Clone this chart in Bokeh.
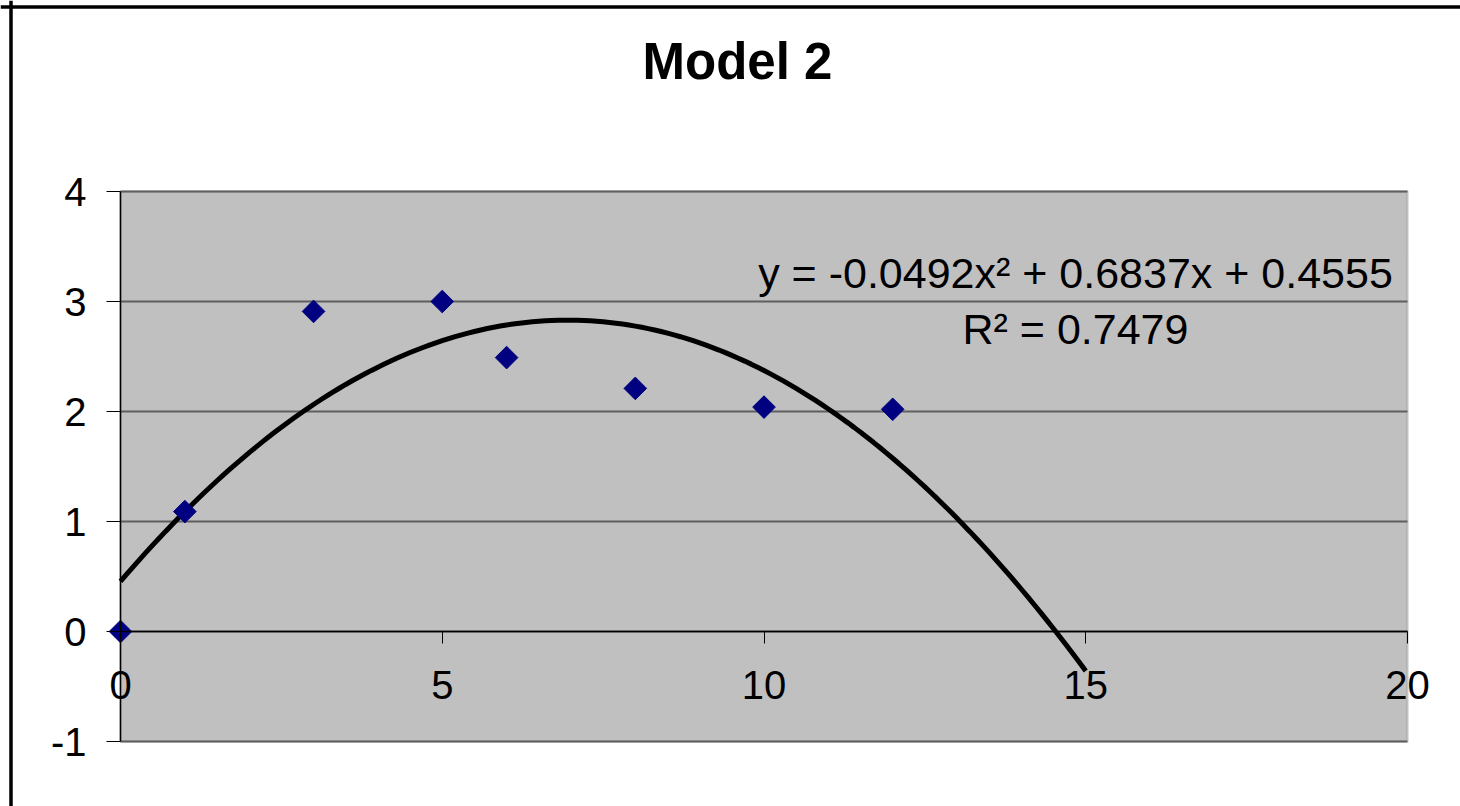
import numpy as np
from bokeh.plotting import figure
from bokeh.models import (Range1d, FixedTicker, LinearAxis, Label, BoxAnnotation, Span)
from bokeh.embed import file_html
from bokeh.resources import INLINE

title_text = "Model 2"
x_values = [0, 1, 3, 5, 6, 8, 10, 12]
y_values = [0.0, 1.09, 2.91, 3.0, 2.49, 2.21, 2.04, 2.02]
trend_coefs = [-0.0492, 0.6837, 0.4555]
trend_x_range = [0, 15]
x_ticks = [0, 5, 10, 15, 20]
y_ticks = [-1, 0, 1, 2, 3, 4]
equation_text = "y = -0.0492x\u00b2 + 0.6837x + 0.4555"
r2_text = "R\u00b2 = 0.7479"

FONT = "Liberation Sans"

# layout (canvas pixels): canvas is 1460 x 806, plot area from (120,191) to (1407,741)
CW, CH = 1460, 806
PA_L, PA_R, PA_T, PA_B = 120, 1407, 191, 741
xmin, xmax = x_ticks[0], x_ticks[-1]
ymin, ymax = y_ticks[0], y_ticks[-1]
sx = (PA_R - PA_L) / (xmax - xmin)
sy = (PA_B - PA_T) / (ymax - ymin)
x_range = Range1d(xmin - PA_L / sx, xmax + (CW - PA_R) / sx)
y_range = Range1d(ymin - (CH - PA_B) / sy, ymax + PA_T / sy)

p = figure(width=CW, height=CH, x_range=x_range, y_range=y_range,
           output_backend="svg", toolbar_location=None,
           x_axis_location=None, y_axis_location=None,
           min_border=0)
p.background_fill_color = "white"
p.border_fill_color = "white"
p.outline_line_color = None
for g in p.grid:
    g.visible = False

# grey plot area
p.add_layout(BoxAnnotation(left=xmin, right=xmax, bottom=ymin, top=ymax,
                           fill_color="#C0C0C0", fill_alpha=1,
                           line_color="#808080", line_width=2.5, level="underlay"))

# horizontal gridlines
p.segment(x0=[xmin] * len(y_ticks), x1=[xmax] * len(y_ticks), y0=y_ticks, y1=y_ticks,
          line_color="#5f5f5f", line_width=1.8)

# y axis (at x = 0)
yaxis = LinearAxis(ticker=FixedTicker(ticks=y_ticks), fixed_location=xmin, bounds=(ymin, ymax),
                   axis_line_color="black", axis_line_width=1.5,
                   major_tick_out=14, major_tick_in=0, minor_tick_out=0, minor_tick_in=0,
                   major_tick_line_color="black", major_label_standoff=20,
                   major_label_overrides={t: str(t) for t in y_ticks},
                   major_label_text_font=FONT, major_label_text_font_size="40px",
                   major_label_text_color="black")
p.add_layout(yaxis, "left")

# x axis crossing at y = 0
xaxis = LinearAxis(ticker=FixedTicker(ticks=x_ticks), fixed_location=0, bounds=(xmin, xmax),
                   axis_line_color="black", axis_line_width=1.5,
                   major_tick_out=12, major_tick_in=0, minor_tick_out=0, minor_tick_in=0,
                   major_tick_line_color="black", major_label_standoff=27,
                   major_label_overrides={t: str(t) for t in x_ticks},
                   major_label_text_font=FONT, major_label_text_font_size="40px",
                   major_label_text_color="black")
p.add_layout(xaxis, "below")

# trendline
tx = np.linspace(trend_x_range[0], trend_x_range[1], 151)
ty = np.polyval(trend_coefs, tx)
p.line(tx, ty, line_color="black", line_width=5)

# data points
p.scatter(x_values, y_values, marker="square", angle=np.pi / 4, size=16,
          fill_color="#000080", line_color="#000080")

# trendline label
p.add_layout(Label(x=1075, y=272, x_units="canvas", y_units="canvas", text=equation_text,
                   text_align="center", text_baseline="alphabetic",
                   text_font=FONT, text_font_size="43px", text_color="black"))
p.add_layout(Label(x=1075, y=328, x_units="canvas", y_units="canvas", text=r2_text,
                   text_align="center", text_baseline="alphabetic",
                   text_font=FONT, text_font_size="43px", text_color="black"))

# title
p.add_layout(Label(x=737, y=61, x_units="canvas", y_units="canvas", text=title_text,
                   text_align="center", text_baseline="alphabetic",
                   text_font=FONT, text_font_size="51px", text_font_style="bold",
                   text_color="black"))

# outer chart border (left and top edges; right/bottom lie outside the window)
p.add_layout(Span(location=10.5, location_units="canvas", dimension="height",
                  line_color="black", line_width=3.5))
p.add_layout(Span(location=6.5, location_units="canvas", dimension="width",
                  line_color="black", line_width=3.5))

open("out.html", "w").write(file_html(p, INLINE))
